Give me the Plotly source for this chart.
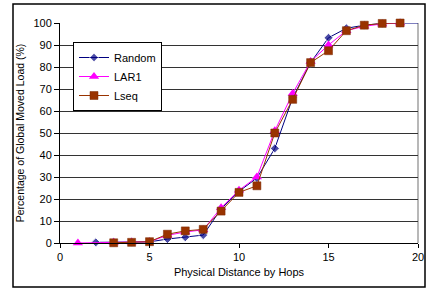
import plotly.graph_objects as go

hops = list(range(1, 21))
random_vals = [None, 0.3, 0.3, 0.4, 0.5, 1.8, 2.6, 3.6, 15.5, 23.5, 29.5, 43, 66, 82, 93.3, 97.6, 99, 99.8, 100, 100]
lar1_vals = [0.0, None, 0.3, 0.4, 0.6, 3.5, 5.0, 6.0, 16.0, 24.0, 30.0, 51, 68, 82.5, 90, 96.5, 98.5, 99.6, 100, None]
lseq_vals = [None, None, 0.1, 0.3, 0.6, 4.0, 5.5, 6.2, 14.5, 23.0, 26.0, 50, 65.3, 82, 87.4, 96.5, 99, 99.8, 100, None]
random_sizes = [7] * 19 + [0]

fig = go.Figure()
fig.add_trace(go.Scatter(x=hops, y=random_vals, name="Random", mode="lines+markers",
                         line=dict(color="#000080", width=1),
                         marker=dict(symbol="diamond", size=random_sizes, color="#000080"),
                         connectgaps=True, cliponaxis=False))
fig.add_trace(go.Scatter(x=hops, y=lar1_vals, name="LAR1", mode="lines+markers",
                         line=dict(color="#FF00FF", width=1),
                         marker=dict(symbol="triangle-up", size=9, color="#FF00FF"),
                         connectgaps=True, cliponaxis=False))
fig.add_trace(go.Scatter(x=hops, y=lseq_vals, name="Lseq", mode="lines+markers",
                         line=dict(color="#993300", width=1),
                         marker=dict(symbol="square", size=8, color="#993300",
                                     line=dict(color="#7a2800", width=0.5)),
                         connectgaps=True, cliponaxis=False))

L, R, T, B = 60, 17, 23, 46
W, H = 435, 289
pw, ph = W - L - R, H - T - B

fig.update_layout(
    width=W, height=H,
    margin=dict(l=L, r=R, t=T, b=B),
    paper_bgcolor="white", plot_bgcolor="white",
    font=dict(family="Liberation Sans, Arial, sans-serif", size=11, color="black"),
    showlegend=True,
    legend=dict(x=(73 - L) / pw, y=(243 - 42) / ph, xanchor="left", yanchor="top",
                bordercolor="black", borderwidth=1, bgcolor="white",
                font=dict(size=11), tracegroupgap=0, itemwidth=30),
    xaxis=dict(range=[0, 20], tickvals=[0, 5, 10, 15, 20], showgrid=False, zeroline=False,
               showline=True, linecolor="black", linewidth=1, ticks="outside", ticklen=4,
               tickcolor="black", mirror=False,
               title=dict(text="Physical Distance by Hops", standoff=6, font=dict(size=11))),
    yaxis=dict(range=[0, 100], tickvals=list(range(0, 101, 10)), showgrid=True,
               gridcolor="#333333", gridwidth=1, zeroline=False,
               showline=True, linecolor="black", linewidth=1, ticks="outside", ticklen=5,
               tickcolor="black",
               title=dict(text="Percentage of Global Moved Load (%)", standoff=6, font=dict(size=10.5))),
)
# right plot border (gray)
fig.add_shape(type="line", xref="paper", yref="paper", x0=1, x1=1, y0=0, y1=1,
              line=dict(color="#a0a0a0", width=1.5), layer="below")
# outer chart border
fig.add_shape(type="rect", xref="paper", yref="paper",
              x0=(13 - L) / pw, x1=(425 - L) / pw,
              y0=(243 - 287) / ph, y1=(243 - 4) / ph,
              line=dict(color="black", width=1.5))

fig.write_html("out.html", config={"displayModeBar": False},
               post_script="document.body.style.margin='0';")
